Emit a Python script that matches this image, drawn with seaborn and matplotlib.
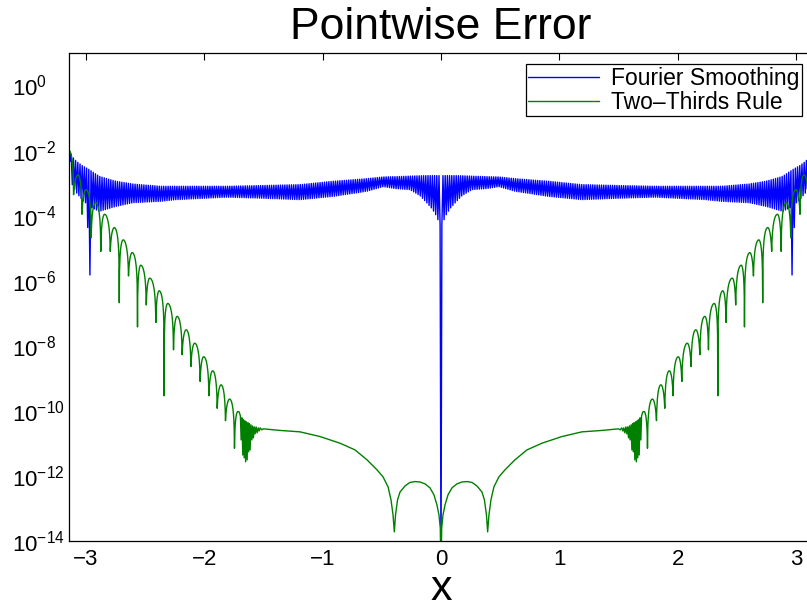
import numpy as np
import pandas as pd
import matplotlib
matplotlib.use("Agg")
import matplotlib.pyplot as plt
import seaborn as sns
from matplotlib.ticker import FixedLocator, LogFormatterMathtext, NullLocator

# ---------------- data (left half; curves are mirror symmetric about x=0) ----------
# Fourier smoothing: envelope of its rapid oscillation
blue_env_x = [-3.1416, -3.114, -3.080, -3.030, -2.970, -2.886, -2.810, -2.743, -2.602, -2.371,
              -2.236, -1.808, -1.527, -1.190, -0.911, -0.627, -0.487, -0.388, -0.262, -0.177,
              -0.121, -0.076, -0.036, -0.008]
blue_upper = [1.07e-2, 6.5e-3, 4.7e-3, 3.45e-3, 2.6e-3, 1.62e-3, 1.33e-3, 1.14e-3, 9.4e-4, 8.0e-4,
              8.0e-4, 8.0e-4, 8.4e-4, 9.0e-4, 1.14e-3, 1.37e-3, 1.55e-3, 1.58e-3, 1.64e-3, 1.68e-3,
              1.70e-3, 1.70e-3, 1.70e-3, 1.70e-3]
blue_lower = [1.07e-2, 9.0e-4, 5.1e-4, 3.1e-4, 1.93e-4, 1.35e-4, 1.64e-4, 1.93e-4, 2.5e-4, 2.75e-4,
              3.1e-4, 3.7e-4, 3.45e-4, 3.1e-4, 3.9e-4, 5.6e-4, 7.8e-4, 6.8e-4, 6.3e-4, 4.1e-4,
              2.5e-4, 1.64e-4, 9.5e-5, 4.9e-5]
blue_period = 0.0186          # width of one oscillation
blue_spike_x = [-2.981, -2.962]
blue_spike_y = [4.3e-5, 1.5e-6]
blue_center_y = 1e-15          # error vanishes at x = 0

# Two-thirds rule: lobes (cusps = troughs, crests = peaks)
green_start_x, green_start_y = -3.1416, 1.0e-2
green_trough_x = [-3.103, -3.032, -2.954, -2.873, -2.793, -2.717, -2.639, -2.563, -2.489, -2.408,
                  -2.338, -2.259, -2.186, -2.112, -2.034, -1.960, -1.890, -1.820, -1.744]
green_trough_y = [4.4e-4, 1.1e-4, 2.1e-5, 8.0e-6, 8.0e-6, 2.1e-7, 1.4e-6, 3.8e-8, 1.8e-7, 5.2e-8,
                  2.9e-10, 7.5e-9, 5.3e-9, 2.3e-9, 8.0e-10, 2.9e-10, 1.2e-10, 5.0e-11, 7.1e-12]
green_peak_x = [-3.066, -2.996, -2.916, -2.841, -2.759, -2.684, -2.608, -2.536, -2.460, -2.380,
                -2.308, -2.228, -2.152, -2.080, -2.004, -1.928, -1.857, -1.785]
green_peak_y = [1.8e-3, 6.3e-4, 2.5e-4, 1.1e-4, 4.3e-5, 1.8e-5, 7.3e-6, 3.0e-6, 1.2e-6, 4.9e-7,
                2.0e-7, 8.0e-8, 3.1e-8, 1.2e-8, 4.6e-9, 1.7e-9, 6.3e-10, 2.3e-10]
# noisy band, plateau and central dips
green_tail_x = [-1.716, -1.705, -1.694, -1.688, -1.681, -1.674, -1.668, -1.662, -1.656, -1.650,
                -1.643, -1.637, -1.630, -1.624, -1.618, -1.612, -1.605, -1.597, -1.591, -1.584,
                -1.576, -1.570, -1.561, -1.553, -1.544, -1.536, -1.527, -1.513, -1.500,
                -1.359, -1.190, -1.021, -0.852, -0.726, -0.624, -0.540, -0.489, -0.447, -0.422,
                -0.405, -0.394, -0.384, -0.367, -0.346, -0.304, -0.262, -0.219, -0.177, -0.135,
                -0.093, -0.059, -0.034, -0.017, -0.006, 0.0]
green_tail_y = [9.5e-11, 9.3e-11, 7.0e-11, 1.28e-11, 6.1e-11, 4.4e-12, 5.3e-11, 3.6e-12, 4.9e-11, 2.7e-12,
                4.6e-11, 3.1e-12, 4.3e-11, 5.5e-12, 4.0e-11, 6.3e-12, 3.7e-11, 1.28e-11, 3.45e-11, 1.48e-11,
                3.2e-11, 1.96e-11, 3.2e-11, 2.1e-11, 3.0e-11, 2.4e-11, 3.0e-11, 2.6e-11, 2.8e-11,
                2.5e-11, 2.26e-11, 1.62e-11, 1.01e-11, 6.3e-12, 3.1e-12, 1.53e-12, 9.3e-13, 4.6e-13, 1.83e-13,
                6.3e-14, 1.9e-14, 6.3e-14, 1.83e-13, 3.2e-13, 4.9e-13, 6.3e-13, 6.7e-13, 6.5e-13, 5.7e-13,
                4.3e-13, 2.6e-13, 1.28e-13, 6.3e-14, 2.5e-14, 1e-15]

series_names = ["Fourier Smoothing", "Two\u2013Thirds Rule"]
series_colors = ["#0000ff", "#008000"]

# ---------------- build the curves ----------------
def mirror(x, ly):
    x = np.asarray(x); ly = np.asarray(ly)
    return np.concatenate([x, -x[::-1][1:]]), np.concatenate([ly, ly[::-1][1:]])

# blue: alternate between upper and lower envelope
bx = np.arange(-np.pi, 0.0, blue_period / 2)
lu = np.interp(bx, blue_env_x, np.log10(blue_upper))
ll = np.interp(bx, blue_env_x, np.log10(blue_lower))
bl = np.where(np.arange(len(bx)) % 2 == 0, lu, ll)
for sx, sy in zip(blue_spike_x, blue_spike_y):
    i = int(np.argmin(np.abs(bx - sx)))
    bl[i] = np.log10(sy)
bx = np.append(bx, 0.0)
bl = np.append(bl, np.log10(blue_center_y))
bx, bl = mirror(bx, bl)

# green: arches between cusps
def half(x0, L0, x1, L1, n=16):
    u = np.linspace(0, 1, n)
    d = 10 ** (L0 - L1)
    return x0 + (x1 - x0) * u, L1 + np.log10(np.sin(np.pi * u / 2) * (1 - d) + d)

gx, gl = [], []
hx, hl = half(green_trough_x[0], np.log10(green_trough_y[0]), green_start_x, np.log10(green_start_y))
gx += list(hx[::-1]); gl += list(hl[::-1])
for i in range(len(green_peak_x)):
    a = (green_trough_x[i], np.log10(green_trough_y[i]))
    p = (green_peak_x[i], np.log10(green_peak_y[i]))
    b = (green_trough_x[i + 1], np.log10(green_trough_y[i + 1]))
    hx, hl = half(a[0], a[1], p[0], p[1])
    gx += list(hx[1:]); gl += list(hl[1:])
    hx, hl = half(b[0], b[1], p[0], p[1])
    gx += list(hx[::-1][1:]); gl += list(hl[::-1][1:])
hx, hl = half(green_trough_x[-1], np.log10(green_trough_y[-1]), green_tail_x[0], np.log10(green_tail_y[0]))
gx += list(hx[1:]); gl += list(hl[1:])
gx += list(green_tail_x[1:]); gl += list(np.log10(green_tail_y[1:]))
gx, gl = mirror(gx, gl)

df_blue = pd.DataFrame({"x": bx, "err": 10 ** bl, "series": series_names[0]})
df_green = pd.DataFrame({"x": gx, "err": 10 ** gl, "series": series_names[1]})

# ---------------- plot ----------------
sns.set_style("white")
plt.rcParams["font.family"] = ["Liberation Sans", "DejaVu Sans"]
plt.rcParams["mathtext.fontset"] = "custom"
plt.rcParams["mathtext.rm"] = "Liberation Sans"
plt.rcParams["mathtext.it"] = "Liberation Sans:italic"
plt.rcParams["mathtext.bf"] = "Liberation Sans:bold"
for k in ["text.color", "axes.labelcolor", "xtick.color", "ytick.color", "axes.edgecolor"]:
    plt.rcParams[k] = "black"

fig = plt.figure(figsize=(8.07, 6.09), dpi=100)
ax = fig.add_axes([0.0855, 0.1117, 0.9219, 0.8013])

sns.lineplot(data=df_blue, x="x", y="err", color=series_colors[0], lw=1.0,
             estimator=None, sort=False, label=series_names[0], ax=ax)
sns.lineplot(data=df_green, x="x", y="err", color=series_colors[1], lw=1.0,
             estimator=None, sort=False, label=series_names[1], ax=ax)

ax.set_yscale("log")
ax.set_xlim(-np.pi, np.pi)
ax.set_ylim(1e-14, 1e1)
ax.set_xticks(range(-3, 4))
ax.yaxis.set_major_locator(FixedLocator([10.0 ** k for k in range(-14, 1, 2)]))
ax.yaxis.set_major_formatter(LogFormatterMathtext())
ax.yaxis.set_minor_locator(NullLocator())
ax.tick_params(direction="in", top=True, right=False, length=5, width=0.8,
               labelsize=16, colors="black")
ax.tick_params(axis="x", pad=6)
ax.tick_params(axis="y", pad=41)
for lab in ax.get_yticklabels():
    lab.set_horizontalalignment("left")
for s in ax.spines.values():
    s.set_visible(True)
    s.set_color("black")
    s.set_linewidth(0.9)

ax.set_title("Pointwise Error", fontsize=32, pad=10, color="black")
ax.set_xlabel("x", fontsize=31, color="black", va="baseline")
ax.xaxis.set_label_coords(0.5, -(600 - 541) / 488)
ax.set_ylabel("")

leg = ax.legend(loc="upper right", fontsize=16.5, frameon=True, fancybox=False, framealpha=1,
                edgecolor="black", handlelength=3.1, borderaxespad=0.5, borderpad=0.1,
                labelspacing=0.05, handletextpad=0.5)
leg.get_frame().set_linewidth(0.9)
for h in leg.get_lines():
    h.set_linewidth(1.0)

fig.savefig("out.png", dpi=100)
